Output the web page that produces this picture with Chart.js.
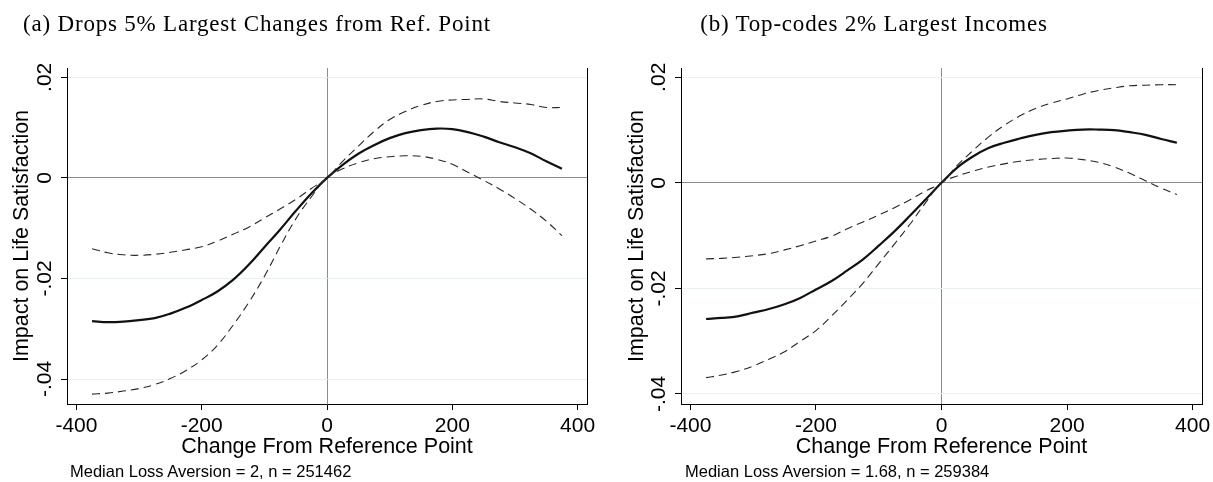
<!DOCTYPE html>
<html>
<head>
<meta charset="utf-8">
<script src="https://cdn.jsdelivr.net/npm/chart.js@4.4.1/dist/chart.umd.min.js"></script>
<style>
  html, body { margin: 0; padding: 0; background: #fff; }
  #page { position: relative; width: 1213px; height: 482px; overflow: hidden; }
  canvas { position: absolute; top: 0; }
  .caption { position: absolute; width: 500px; text-align: center; white-space: nowrap;
             font-family: 'Liberation Serif', serif; font-size: 23px; line-height: 23px;
             letter-spacing: 0.8px; color: #000; }
  .note { position: absolute; white-space: nowrap;
          font-family: 'Liberation Sans', Arial, sans-serif; font-size: 16.5px; line-height: 16.5px; color: #000; }
</style>
</head>
<body>
<div id="page">
  <canvas id="chartA" width="606" height="482" style="left:0"></canvas>
  <canvas id="chartB" width="607" height="482" style="left:606px"></canvas>
  <div class="caption" style="left:7px; top:12px">(a) Drops 5% Largest Changes from Ref. Point</div>
  <div class="caption" style="left:624px; top:12px">(b) Top-codes 2% Largest Incomes</div>
  <div class="note" style="left:70px; top:463px">Median Loss Aversion = 2, n = 251462</div>
  <div class="note" style="left:685px; top:463px">Median Loss Aversion = 1.68, n = 259384</div>
</div>
<script>
// change from reference point (x), same grid for both panels
const changeX = [-375, -350, -325, -300, -275, -250, -225, -200, -175, -150, -125, -100, -75, -50, -25, 0,
                 25, 50, 75, 100, 125, 150, 175, 200, 225, 250, 275, 300, 325, 350, 375];

// (a) drops 5% largest changes
const estA = [-0.0285, -0.0287, -0.0286, -0.0283, -0.0279, -0.0270, -0.0258, -0.0243, -0.0226, -0.0203, -0.0173, -0.0138, -0.0103, -0.0066, -0.0031, 0,
              0.0026, 0.0048, 0.0065, 0.0079, 0.0089, 0.0095, 0.0098, 0.0097, 0.0091, 0.0082, 0.0071, 0.0061, 0.0049, 0.0033, 0.0018];
const upperA = [-0.0141, -0.0149, -0.0153, -0.0154, -0.0152, -0.0148, -0.0143, -0.0137, -0.0126, -0.0112, -0.0098, -0.0080, -0.0062, -0.0043, -0.0021, 0,
                0.0033, 0.0063, 0.0092, 0.0116, 0.0132, 0.0144, 0.0152, 0.0155, 0.0156, 0.0157, 0.0152, 0.0149, 0.0146, 0.0140, 0.0140];
const lowerA = [-0.0430, -0.0428, -0.0424, -0.0419, -0.0411, -0.0399, -0.0383, -0.0362, -0.0333, -0.0293, -0.0248, -0.0196, -0.0137, -0.0082, -0.0038, 0,
                0.0018, 0.0030, 0.0038, 0.0042, 0.0044, 0.0043, 0.0037, 0.0027, 0.0011, -0.0005, -0.0022, -0.0041, -0.0062, -0.0086, -0.0115];

// (b) top-codes 2% largest incomes
const estB = [-0.0258, -0.0256, -0.0253, -0.0246, -0.0239, -0.0230, -0.0218, -0.0202, -0.0186, -0.0166, -0.0145, -0.0119, -0.0092, -0.0062, -0.0031, 0,
              0.0029, 0.0050, 0.0066, 0.0076, 0.0084, 0.0091, 0.0096, 0.0099, 0.0101, 0.0101, 0.0100, 0.0096, 0.0091, 0.0083, 0.0076];
const upperB = [-0.0144, -0.0143, -0.0141, -0.0138, -0.0134, -0.0127, -0.0119, -0.0110, -0.0101, -0.0087, -0.0074, -0.0061, -0.0047, -0.0032, -0.0015, 0,
                0.0033, 0.0061, 0.0087, 0.0109, 0.0127, 0.0141, 0.0151, 0.0159, 0.0168, 0.0175, 0.0180, 0.0184, 0.0185, 0.0186, 0.0186];
const lowerB = [-0.0369, -0.0364, -0.0357, -0.0347, -0.0334, -0.0320, -0.0300, -0.0280, -0.0252, -0.0222, -0.0190, -0.0153, -0.0116, -0.0078, -0.0037, 0,
                0.0013, 0.0022, 0.0030, 0.0036, 0.0041, 0.0044, 0.0046, 0.0047, 0.0044, 0.0039, 0.0030, 0.0018, 0.0004, -0.0010, -0.0022];

const xTicks = [-400, -200, 0, 200, 400];
const yTicks = [-0.04, -0.02, 0, 0.02];
const yTickLabels = ['-.04', '-.02', '0', '.02'];

const sans = "'Liberation Sans', Arial, sans-serif";
const gridColor = '#e8f0f1';
const zeroColor = '#8c8c8c';

function toPoints(ys) {
  return changeX.map((x, i) => ({ x: x, y: ys[i] }));
}

function makeChart(id, est, upper, lower, box) {
  const dashed = { borderColor: '#262626', borderWidth: 1.1, borderDash: [8, 5] };
  return new Chart(document.getElementById(id), {
    type: 'line',
    data: {
      datasets: [
        Object.assign({ data: toPoints(upper) }, dashed),
        Object.assign({ data: toPoints(lower) }, dashed),
        { data: toPoints(est), borderColor: '#111', borderWidth: 2.2 }
      ]
    },
    options: {
      responsive: false,
      animation: false,
      elements: { point: { radius: 0 }, line: { tension: 0.4, fill: false } },
      layout: { padding: { top: 68, right: box.padRight, bottom: 0, left: 0 } },
      plugins: { legend: { display: false }, tooltip: { enabled: false } },
      scales: {
        x: {
          type: 'linear', min: -415, max: 415,
          afterBuildTicks: s => { s.ticks = xTicks.map(v => ({ value: v })); },
          afterFit: s => { s.height = 78; s.paddingLeft = 0; s.paddingRight = 0; },
          ticks: { color: '#000', font: { family: sans, size: 21 }, padding: 4, maxRotation: 0,
                   callback: (v, i) => String(xTicks[i]) },
          grid: { color: c => (c.tick && c.tick.value === 0 ? zeroColor : 'rgba(0,0,0,0)'),
                  tickColor: '#000', tickLength: 6 },
          border: { color: '#000', width: 1 },
          title: { display: true, text: 'Change From Reference Point', color: '#000',
                   font: { family: sans, size: 21.5 }, padding: { top: 0, bottom: 22 } }
        },
        y: {
          type: 'linear', min: box.yMin, max: box.yMax,
          afterBuildTicks: s => { s.ticks = yTicks.map(v => ({ value: v })); },
          afterFit: s => { s.width = box.axisW; s.paddingTop = 0; s.paddingBottom = 0; },
          ticks: { color: '#000', font: { family: sans, size: 21 }, minRotation: 90, maxRotation: 90,
                   crossAlign: 'center', padding: -2, callback: (v, i) => yTickLabels[i] },
          grid: { color: c => (c.tick && c.tick.value === 0 ? zeroColor : gridColor),
                  tickColor: '#000', tickLength: 6 },
          border: { color: '#000', width: 1 },
          title: { display: true, text: 'Impact on Life Satisfaction', color: '#000',
                   font: { family: sans, size: 21.5 }, padding: { top: box.yTitlePad, bottom: 0 } }
        },
        frame: {
          type: 'linear', position: 'right', display: true,
          ticks: { display: false },
          grid: { drawOnChartArea: false, drawTicks: false },
          border: { color: '#000', width: 1 },
          afterFit: s => { s.width = 0; s.paddingTop = 0; s.paddingBottom = 0; }
        }
      }
    }
  });
}

makeChart('chartA', estA, upperA, lowerA, { axisW: 67, padRight: 19, yMin: -0.04497, yMax: 0.02185, yTitlePad: 9.5 });
makeChart('chartB', estB, upperB, lowerB, { axisW: 75, padRight: 11, yMin: -0.0419, yMax: 0.02176, yTitlePad: 18 });
</script>
</body>
</html>
